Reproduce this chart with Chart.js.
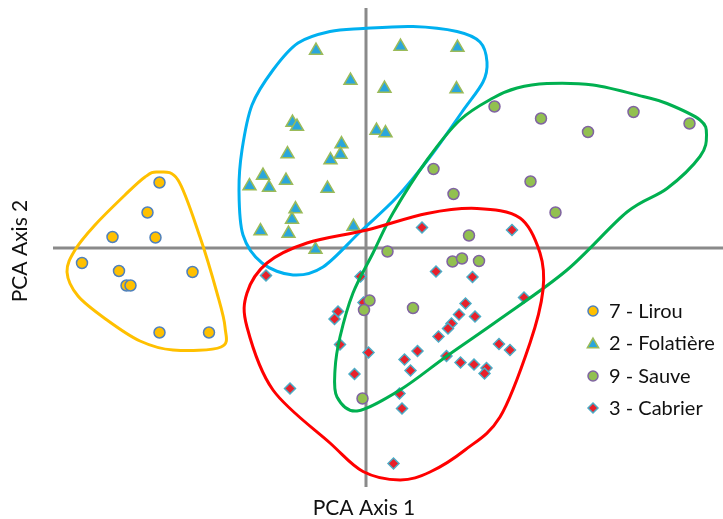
<!DOCTYPE html>
<html>
<head>
<meta charset="utf-8">
<script src="https://cdn.jsdelivr.net/npm/chart.js@4.4.0/dist/chart.umd.min.js"></script>
<style>
  body { margin: 0; background: #fff; }
  #wrap { width: 723px; height: 519px; }
</style>
</head>
<body>
<div id="wrap"><canvas id="pcaChart"></canvas></div>
<script>
// scores on PCA axis 1 / axis 2, one list per site
const lirou = [[-4.13, 1.31], [-4.37, 0.71], [-5.07, 0.22], [-4.21, 0.21], [-5.68, -0.30], [-4.94, -0.46],
  [-4.79, -0.75], [-4.71, -0.75], [-3.47, -0.48], [-4.13, -1.69], [-3.14, -1.69]]

const folatiere = [[-1.00, 3.95], [0.69, 4.03], [1.83, 4.01], [-0.31, 3.35], [0.37, 3.19], [1.81, 3.18],
  [-1.47, 2.51], [-1.38, 2.43], [0.21, 2.35], [0.39, 2.30], [-0.49, 2.08], [-0.51, 1.87], [-0.71, 1.76],
  [-1.57, 1.88], [-2.06, 1.45], [-1.60, 1.35], [-2.33, 1.24], [-1.94, 1.21], [-0.77, 1.19], [-1.41, 0.78],
  [-1.48, 0.57], [-2.11, 0.34], [-1.55, 0.29], [-0.25, 0.43], [-1.01, -0.03]]

const sauve = [[2.57, 2.83], [3.50, 2.59], [4.44, 2.32], [5.35, 2.72], [6.47, 2.49], [1.35, 1.58], [3.29, 1.33],
  [1.75, 1.08], [3.79, 0.71], [2.06, 0.25], [0.43, -0.07], [1.73, -0.27], [1.92, -0.21], [2.26, -0.26],
  [0.07, -1.05], [-0.04, -1.24], [0.94, -1.20], [-0.07, -3.01]]

const cabrier = [[1.12, 0.41], [2.92, 0.36], [-2.00, -0.55], [-0.11, -0.57], [1.40, -0.47], [2.13, -0.58],
  [-0.05, -1.09], [3.16, -0.99], [-0.56, -1.27], [-0.63, -1.42], [1.99, -1.11], [1.86, -1.33], [2.18, -1.37],
  [1.71, -1.51], [1.64, -1.61], [1.45, -1.77], [-0.52, -1.93], [0.05, -2.09], [1.03, -2.06], [0.77, -2.23],
  [1.61, -2.16], [2.66, -1.92], [2.88, -2.04], [1.89, -2.29], [2.16, -2.33], [2.41, -2.40], [2.37, -2.51],
  [0.89, -2.45], [-0.23, -2.52], [-1.52, -2.81], [0.67, -2.91], [0.72, -3.21], [0.55, -4.31]]

// hand drawn outlines round each group (closed, smoothed)
const lirouHull = [[-4.16, 1.52], [-3.76, 1.36], [-3.32, 0.22], [-2.98, -0.90], [-2.82, -1.58], [-2.90, -1.98],
  [-3.86, -2.04], [-4.52, -1.86], [-5.18, -1.44], [-5.76, -0.96], [-5.98, -0.48], [-5.82, -0.04],
  [-5.42, 0.46], [-4.82, 1.06], [-4.42, 1.42]]
const folatiereHull = [[-0.72, 4.33], [-0.06, 4.39], [0.94, 4.43], [1.82, 4.33], [2.28, 4.12], [2.42, 3.72],
  [2.34, 3.32], [1.92, 2.72], [1.28, 1.82], [0.62, 1.02], [-0.12, 0.32], [-0.86, -0.38], [-1.46, -0.54],
  [-2.08, -0.30], [-2.46, 0.26], [-2.54, 1.16], [-2.48, 1.96], [-2.28, 2.86], [-1.86, 3.56], [-1.36, 4.10]]
const sauveHull = [[3.62, 3.29], [4.54, 3.26], [5.54, 3.03], [6.02, 2.89], [6.68, 2.56], [6.81, 2.26],
  [6.68, 1.83], [6.02, 1.19], [5.22, 0.72], [4.02, -0.44], [2.68, -1.42], [1.62, -2.16], [0.68, -2.84],
  [-0.18, -3.26], [-0.58, -2.98], [-0.62, -2.44], [-0.52, -1.78], [-0.26, -0.90], [0.14, -0.10],
  [0.54, 0.70], [1.22, 1.76], [1.88, 2.56], [2.54, 3.00], [3.02, 3.20]]
const cabrierHull = [[0.02, 0.36], [1.22, 0.69], [2.22, 0.79], [3.08, 0.60], [3.48, -0.10], [3.54, -0.84],
  [3.28, -1.90], [2.68, -3.38], [1.98, -4.04], [1.28, -4.48], [0.68, -4.64], [-0.06, -4.47], [-0.72, -3.90],
  [-1.86, -2.84], [-2.38, -1.58], [-2.38, -0.90], [-1.98, -0.30], [-1.18, 0.10]]

const siteNames = ['7 - Lirou', '2 - Folatière', '9 - Sauve', '3 - Cabrier']
const axisTitles = ['PCA Axis 1', 'PCA Axis 2']

const toPoints = list => list.map(p => ({ x: p[0], y: p[1] }))

const hulls = [
  { pts: lirouHull, color: '#FFC000' },
  { pts: folatiereHull, color: '#00B0F0' },
  { pts: sauveHull, color: '#00B050' },
  { pts: cabrierHull, color: '#FF0000' }
]

const font = "Lato, 'Open Sans', sans-serif"

// axis lines through the origin
const axesPlugin = {
  id: 'pcaAxes',
  beforeDatasetsDraw(chart) {
    const { ctx } = chart
    const xs = chart.scales.x, ys = chart.scales.y
    ctx.save()
    ctx.strokeStyle = '#8a8a8a'
    ctx.lineWidth = 3
    ctx.beginPath()
    ctx.moveTo(xs.getPixelForValue(-6.26), ys.getPixelForValue(0))
    ctx.lineTo(xs.getPixelForValue(7.2), ys.getPixelForValue(0))
    ctx.moveTo(xs.getPixelForValue(0), ys.getPixelForValue(4.8))
    ctx.lineTo(xs.getPixelForValue(0), ys.getPixelForValue(-4.78))
    ctx.stroke()
    ctx.restore()
  }
}

// closed smooth curve through the outline points
const hullPlugin = {
  id: 'hulls',
  afterDatasetsDraw(chart) {
    const { ctx } = chart
    const xs = chart.scales.x, ys = chart.scales.y
    ctx.save()
    ctx.lineWidth = 3
    hulls.forEach(h => {
      const p = h.pts.map(q => [xs.getPixelForValue(q[0]), ys.getPixelForValue(q[1])])
      const n = p.length
      ctx.strokeStyle = h.color
      ctx.beginPath()
      ctx.moveTo(p[0][0], p[0][1])
      for (let i = 0; i < n; i++) {
        const p0 = p[(i - 1 + n) % n], p1 = p[i], p2 = p[(i + 1) % n], p3 = p[(i + 2) % n]
        ctx.bezierCurveTo(
          p1[0] + (p2[0] - p0[0]) / 6, p1[1] + (p2[1] - p0[1]) / 6,
          p2[0] - (p3[0] - p1[0]) / 6, p2[1] - (p3[1] - p1[1]) / 6,
          p2[0], p2[1])
      }
      ctx.closePath()
      ctx.stroke()
    })
    ctx.restore()
  }
}

// axis titles and the legend box on the right
const labelPlugin = {
  id: 'labels',
  afterDraw(chart) {
    const { ctx } = chart
    ctx.save()
    ctx.fillStyle = '#111'
    ctx.font = '21px ' + font
    ctx.textAlign = 'center'
    ctx.textBaseline = 'alphabetic'
    ctx.fillText(axisTitles[0], 364, 515)
    ctx.translate(27, 251)
    ctx.rotate(-Math.PI / 2)
    ctx.fillText(axisTitles[1], 0, 0)
    ctx.restore()

    ctx.save()
    ctx.font = '20px ' + font
    ctx.fillStyle = '#111'
    ctx.textAlign = 'left'
    ctx.textBaseline = 'middle'
    const rowY = [311, 343, 376, 408]
    chart.data.datasets.forEach((ds, i) => {
      const opts = {
        pointStyle: ds.pointStyle,
        radius: ds.pointStyle === 'triangle' ? 6.5 : 5,
        borderWidth: ds.borderWidth,
        rotation: 0
      }
      ctx.save()
      ctx.fillStyle = ds.backgroundColor
      ctx.strokeStyle = ds.borderColor
      ctx.lineWidth = ds.borderWidth
      Chart.helpers.drawPoint(ctx, opts, 593, rowY[i] + (ds.pointStyle === 'triangle' ? 1.5 : 0))
      ctx.restore()
      ctx.fillText(siteNames[i], 609, rowY[i] + 1)
    })
    ctx.restore()
  }
}

const config = {
  type: 'scatter',
  data: {
    datasets: [
      { label: siteNames[0], data: toPoints(lirou), pointStyle: 'circle', pointRadius: 5.5,
        backgroundColor: '#FFC000', borderColor: '#4F81BD', borderWidth: 1.5 },
      { label: siteNames[1], data: toPoints(folatiere), pointStyle: 'triangle', pointRadius: 7.5,
        backgroundColor: '#2AA6DC', borderColor: '#9BBB59', borderWidth: 1.5 },
      { label: siteNames[2], data: toPoints(sauve), pointStyle: 'circle', pointRadius: 5.5,
        backgroundColor: '#92C050', borderColor: '#8064A2', borderWidth: 1.5 },
      { label: siteNames[3], data: toPoints(cabrier), pointStyle: 'rectRot', pointRadius: 5.5,
        backgroundColor: '#E8202A', borderColor: '#4BACC6', borderWidth: 1.5 }
    ]
  },
  options: {
    responsive: true,
    maintainAspectRatio: false,
    animation: false,
    layout: { padding: 0, autoPadding: false },
    plugins: { legend: { display: false }, tooltip: { enabled: false } },
    scales: {
      x: { type: 'linear', display: false, min: -7.32, max: 7.14 },
      y: { type: 'linear', display: false, min: -5.42, max: 4.96 }
    }
  },
  plugins: [axesPlugin, hullPlugin, labelPlugin]
}

const myChart = new Chart(document.getElementById('pcaChart'), config)
</script>
</body>
</html>
